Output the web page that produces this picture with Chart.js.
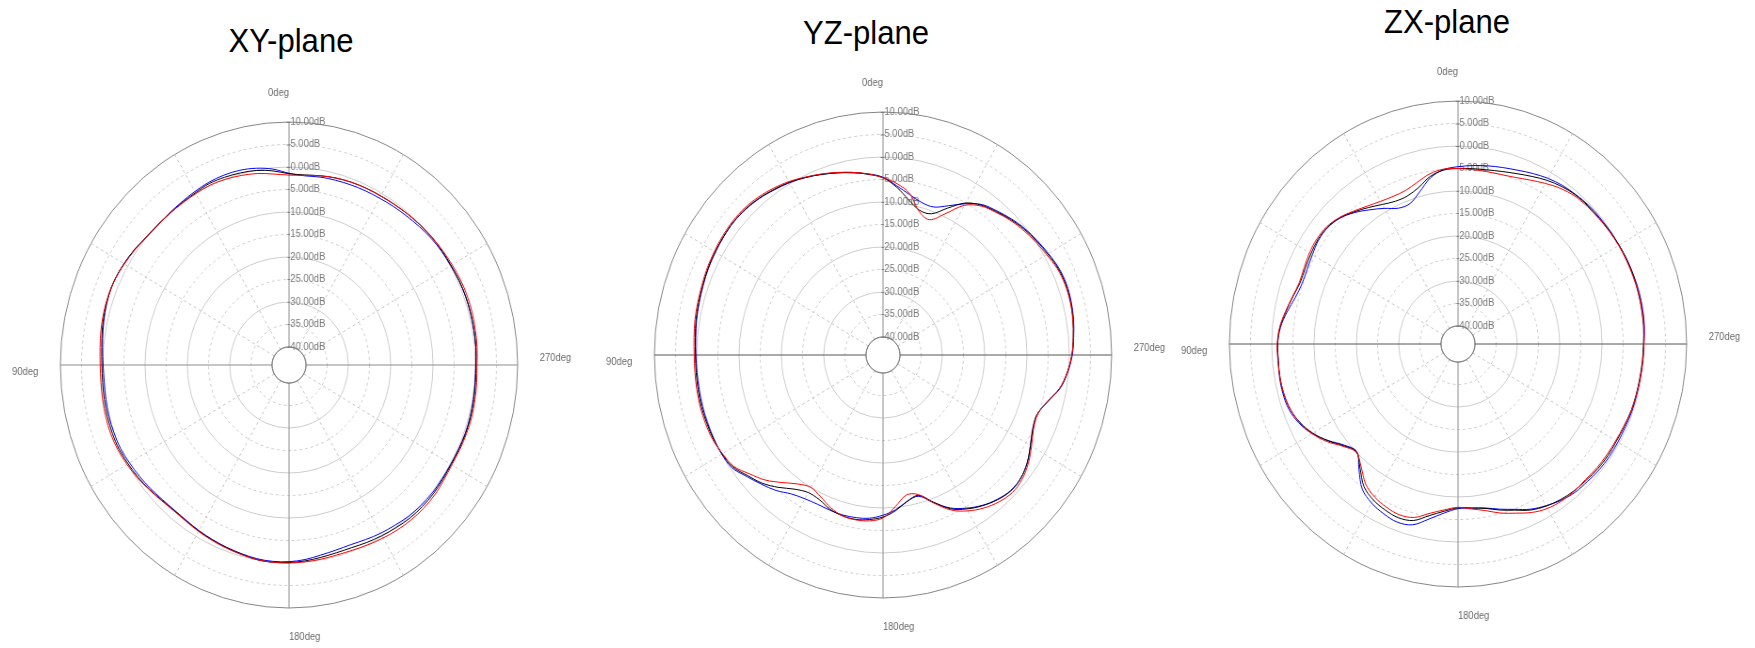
<!DOCTYPE html>
<html>
<head>
<meta charset="utf-8">
<title>Radiation patterns</title>
<script src="https://cdn.jsdelivr.net/npm/chart.js@4.4.1/dist/chart.umd.min.js"></script>
<style>
  html, body { margin: 0; padding: 0; background: #fff; overflow: hidden; }
  body { width: 1755px; height: 648px; position: relative; }
  /* the original plots are a little narrower than they are tall */
  .plot { position: absolute; width: 646px; height: 566px; transform: scaleX(0.941); transform-origin: 323px 283px; }
  .title { position: absolute; width: 400px; text-align: center; font: 33px/1 "Liberation Sans", Arial, sans-serif; color: #000; transform: scaleX(0.941); }
</style>
</head>
<body>
<div class="title" style="left:90.8px; top:24.4px">XY-plane</div>
<div class="title" style="left:666.3px; top:15.5px">YZ-plane</div>
<div class="title" style="left:1246.5px; top:5.1px">ZX-plane</div>

<div class="plot" style="left:-34px; top:82px"><canvas id="xy"></canvas></div>
<div class="plot" style="left:560px; top:72px"><canvas id="yz"></canvas></div>
<div class="plot" style="left:1135px; top:61px"><canvas id="zx"></canvas></div>

<script>
const ANGLES = [0, 5, 10, 15, 20, 25, 30, 35, 40, 45, 50, 55,
  60, 65, 70, 75, 80, 85, 90, 95, 100, 105, 110, 115,
  120, 125, 130, 135, 140, 145, 150, 155, 160, 165, 170, 175,
  180, 185, 190, 195, 200, 205, 210, 215, 220, 225, 230, 235,
  240, 245, 250, 255, 260, 265, 270, 275, 280, 285, 290, 295,
  300, 305, 310, 315, 320, 325, 330, 335, 340, 345, 350, 355];

const DB_TICKS = [-40, -35, -30, -25, -20, -15, -10, -5, 0, 5, 10];
const DEG_LABELS = { 0: '0deg', 90: '90deg', 180: '180deg', 270: '270deg' };

// gain in dB, one value per entry of ANGLES
const xyBlack = [-1.5, -0.7, -0.1, 0.2, 0.4, 0.5, 0.2, 0.0, -0.1, -0.1, 0.1, 0.6,
  1.0, 1.3, 1.3, 1.1, 0.8, 0.4, 0.2, 0.2, 0.3, 0.4, 0.4, 0.3,
  -0.1, -0.5, -1.0, -1.5, -1.8, -1.7, -1.4, -1.1, -0.8, -0.5, -0.1, 0.0,
  -0.1, -0.3, -0.6, -0.8, -0.8, -0.5, -0.2, 0.1, 0.4, 0.5, 0.5, 0.3,
  0.2, 0.3, 0.4, 0.4, 0.3, 0.2, 0.15, 0.3, 0.35, 0.4, 0.4, 0.35,
  0.2, 0.15, 0.1, -0.1, -0.3, -0.5, -0.65, -0.7, -0.8, -1.0, -1.3, -1.6];
const xyRed = [-1.8, -1.4, -0.8, -0.4, -0.1, 0.1, 0.0, -0.1, -0.1, -0.1, 0.1, 0.5,
  0.9, 1.3, 1.4, 1.3, 1.1, 0.8, 0.6, 0.6, 0.7, 0.8, 0.8, 0.6,
  0.2, -0.3, -0.9, -1.4, -1.7, -1.6, -1.3, -1.0, -0.7, -0.4, -0.1, 0.0,
  0.0, -0.1, -0.2, -0.3, -0.2, 0.1, 0.4, 0.7, 0.9, 1.0, 0.9, 0.6,
  0.4, 0.5, 0.6, 0.7, 0.6, 0.5, 0.4, 0.6, 0.7, 0.8, 0.8, 0.7,
  0.5, 0.3, 0.1, -0.1, -0.3, -0.5, -0.6, -0.7, -0.8, -1.0, -1.3, -1.7];
const xyBlue = [-1.4, -0.3, 0.4, 0.8, 0.9, 0.8, 0.5, 0.2, 0.0, -0.1, 0.1, 0.6,
  1.0, 1.3, 1.3, 1.0, 0.6, 0.2, -0.1, -0.2, -0.1, 0.0, 0.0, -0.1,
  -0.5, -0.9, -1.3, -1.7, -1.9, -1.8, -1.5, -1.2, -0.9, -0.6, -0.3, -0.2,
  -0.3, -0.6, -1.1, -1.4, -1.5, -1.2, -0.8, -0.5, -0.1, 0.1, 0.2, 0.1,
  0.1, 0.2, 0.3, 0.3, 0.2, 0.1, 0.1, 0.3, 0.35, 0.4, 0.4, 0.3,
  0.1, 0.0, -0.2, -0.5, -0.8, -1.0, -1.2, -1.3, -1.4, -1.5, -1.6, -1.8];

const yzBlack = [-4.6, -3.7, -2.8, -2.1, -1.3, -0.5, 0.3, 0.9, 1.5, 1.9, 2.05, 1.95,
  1.8, 1.6, 1.3, 1.05, 0.85, 0.5, 0.3, 0.3, 0.35, 0.4, 0.3, 0.2,
  -0.1, -0.7, -2.3, -3.7, -5.6, -7.6, -8.7, -8.5, -7.5, -7.0, -6.9, -7.3,
  -8.0, -9.3, -11.0, -11.7, -9.2, -6.3, -4.5, -3.1, -2.0, -1.3, -1.5, -2.4,
  -3.8, -5.0, -5.3, -3.8, -1.6, -0.3, 0.6, 1.1, 1.55, 1.85, 1.9, 1.6,
  0.9, 0.2, -0.5, -1.4, -2.4, -3.4, -5.0, -8.0, -10.6, -10.7, -9.0, -6.6];
const yzRed = [-4.6, -3.6, -2.8, -2.0, -1.2, -0.4, 0.5, 1.2, 1.8, 2.2, 2.3, 2.2,
  2.0, 1.8, 1.5, 1.3, 1.1, 0.8, 0.6, 0.6, 0.65, 0.7, 0.6, 0.4,
  -0.2, -0.9, -2.9, -4.7, -7.0, -9.0, -10.0, -9.2, -7.9, -7.0, -6.8, -7.0,
  -7.8, -10.2, -12.4, -11.9, -9.0, -6.0, -4.0, -2.5, -1.4, -0.8, -1.1, -2.1,
  -3.5, -4.8, -5.2, -3.8, -1.6, -0.3, 0.6, 1.1, 1.5, 1.75, 1.75, 1.4,
  0.6, -0.1, -0.8, -1.6, -2.6, -3.6, -5.6, -9.4, -12.0, -11.0, -7.6, -5.8];
const yzBlue = [-4.5, -3.6, -2.9, -2.1, -1.3, -0.5, 0.2, 0.8, 1.4, 1.8, 2.0, 1.9,
  1.7, 1.5, 1.2, 0.95, 0.7, 0.4, 0.2, 0.1, 0.1, 0.15, 0.1, 0.1,
  0.0, -0.4, -2.0, -3.4, -4.7, -6.3, -7.1, -7.4, -7.3, -7.2, -7.3, -7.6,
  -8.4, -9.5, -11.0, -11.5, -9.1, -6.5, -4.7, -3.2, -2.1, -1.4, -1.5, -2.4,
  -3.8, -5.0, -5.3, -3.8, -1.5, -0.2, 0.7, 1.2, 1.7, 2.0, 2.1, 1.8,
  1.1, 0.4, -0.3, -1.2, -2.2, -3.2, -5.2, -7.4, -9.0, -8.9, -7.8, -6.3];

const zxBlack = [-5.0, -5.2, -6.2, -8.0, -9.0, -9.0, -8.2, -7.0, -5.7, -4.4, -3.7, -3.6,
  -3.9, -4.2, -4.3, -3.6, -2.7, -1.8, -1.4, -1.4, -1.3, -1.4, -1.8, -2.8,
  -4.4, -6.5, -8.8, -10.1, -8.0, -5.3, -4.0, -3.3, -2.9, -3.4, -5.3, -6.7,
  -7.6, -7.4, -6.9, -5.8, -4.7, -3.3, -2.4, -1.8, -1.4, -1.2, -0.9, -0.8,
  -0.8, -0.7, -0.5, -0.45, -0.4, -0.3, -0.2, 0.0, 0.05, 0.1, 0.1, 0.05,
  -0.1, -0.3, -0.5, -0.6, -0.8, -1.3, -2.0, -2.9, -3.7, -4.3, -4.7, -4.9];
const zxRed = [-5.0, -5.0, -5.6, -6.8, -7.7, -7.8, -7.4, -6.6, -5.5, -4.3, -3.5, -3.3,
  -3.5, -3.9, -4.1, -3.5, -2.6, -1.7, -1.3, -1.3, -1.3, -1.4, -1.8, -2.7,
  -4.2, -6.2, -8.6, -10.0, -8.4, -6.0, -4.7, -4.0, -3.6, -4.1, -5.8, -7.0,
  -7.7, -7.2, -6.4, -5.1, -4.0, -2.7, -1.8, -1.4, -1.3, -1.4, -1.2, -1.1,
  -1.0, -0.8, -0.5, -0.4, -0.3, -0.2, -0.1, 0.1, 0.1, 0.1, 0.0, -0.1,
  -0.2, -0.4, -0.6, -0.8, -1.1, -1.8, -2.8, -3.8, -4.6, -5.0, -5.1, -5.1];
const zxBlue = [-4.6, -5.1, -6.5, -9.0, -10.8, -10.7, -9.2, -7.6, -5.9, -4.5, -3.8, -3.8,
  -4.3, -4.7, -4.8, -4.2, -3.0, -1.9, -1.4, -1.4, -1.2, -1.2, -1.5, -2.5,
  -4.2, -6.6, -9.0, -10.2, -7.6, -4.6, -3.2, -2.4, -1.9, -2.4, -4.5, -6.3,
  -7.4, -7.4, -7.0, -6.0, -4.9, -3.5, -2.5, -1.6, -1.0, -0.8, -0.5, -0.4,
  -0.4, -0.4, -0.3, -0.3, -0.3, -0.2, -0.1, 0.2, 0.3, 0.3, 0.2, 0.1,
  -0.1, -0.2, -0.3, -0.4, -0.7, -1.0, -1.5, -2.2, -2.9, -3.4, -3.8, -4.2];

// radar runs clockwise, these plots run counter-clockwise (90deg on the left)
const N = ANGLES.length;
const order = ANGLES.map((a, i) => (N - i) % N);
const ccw = arr => order.map(k => arr[k]);

// where the degree labels sit relative to the outer ring
const LABEL_POS = {
  0:   { dist: 29,   dy: 0,    align: 'right' },
  90:  { dist: 23.5, dy: 7,    align: 'right' },
  180: { dist: 29,   dy: 0,    align: 'left' },
  270: { dist: 23.5, dy: -6.5, align: 'left' }
};

const polarText = {
  id: 'polarText',
  beforeDatasetsDraw(chart) {
    const r = chart.scales.r, ctx = chart.ctx;
    const x0 = r.xCenter, y0 = r.yCenter;
    ctx.save();

    // hub at -40 dB
    const hub = r.getDistanceFromCenterForValue(DB_TICKS[0]);
    ctx.beginPath();
    ctx.arc(x0, y0, hub, 0, Math.PI * 2);
    ctx.fillStyle = '#fff';
    ctx.fill();
    ctx.strokeStyle = '#707070';
    ctx.lineWidth = 1;
    ctx.stroke();

    // dB labels along the upper axis
    ctx.font = '10px "Liberation Sans", Arial, sans-serif';
    ctx.textBaseline = 'middle';
    ctx.textAlign = 'left';
    ctx.fillStyle = '#7a7a7a';
    ctx.strokeStyle = '#7a7a7a';
    DB_TICKS.forEach(v => {
      const y = y0 - r.getDistanceFromCenterForValue(v);
      if (v >= 0) {
        ctx.beginPath();
        ctx.moveTo(x0 - 2.5, y + 0.5);
        ctx.lineTo(x0 + 1.5, y + 0.5);
        ctx.stroke();
      }
      ctx.fillText(v.toFixed(2) + 'dB', v < 0 ? x0 - 2 : x0 + 1.5, y);
    });

    // degree labels
    ctx.fillStyle = '#6a6a6a';
    r.getLabels().forEach((a, i) => {
      if (!(a in DEG_LABELS)) return;
      const p = LABEL_POS[a];
      const pos = r.getPointPosition(i, r.drawingArea + p.dist);
      ctx.textAlign = p.align;
      ctx.fillText(DEG_LABELS[a], pos.x, pos.y + p.dy);
    });
    ctx.restore();
  }
};

function makePlot(id, black, red, blue, hAxisColor, gapAtTop) {
  const ds = (label, data, color) => ({
    label, data: ccw(data), borderColor: color, backgroundColor: color,
    borderWidth: 1, pointRadius: 0, fill: false, tension: 0.35,
    segment: { borderColor: c => (gapAtTop && c.p0DataIndex === 0) ? 'rgba(0,0,0,0)' : undefined }
  });

  return new Chart(document.getElementById(id), {
    type: 'radar',
    data: {
      labels: ccw(ANGLES),
      datasets: [ds('red', red, '#ff0000'), ds('black', black, '#000000'), ds('blue', blue, '#0000ff')]
    },
    options: {
      responsive: true,
      maintainAspectRatio: false,
      animation: false,
      layout: { padding: { left: 80, right: 80, top: 40, bottom: 40 } },
      plugins: { legend: { display: false }, tooltip: { enabled: false } },
      scales: {
        r: {
          min: -44,
          max: 10,
          startAngle: 0,
          afterBuildTicks: s => { s.ticks = DB_TICKS.map(v => ({ value: v })); },
          ticks: { display: false, stepSize: 5 },
          pointLabels: { display: false },
          grid: {
            circular: true,
            lineWidth: 1,
            color: c => c.tick.value === 10 ? '#858585' : (c.tick.value === -40 ? '#707070' : '#cccccc')
          },
          border: { dash: c => (c.tick.value % 10 !== 0) ? [3, 3] : [] },
          angleLines: {
            display: true,
            color: c => c.label % 90 === 0 ? ((c.label === 90 || c.label === 270) ? hAxisColor : '#8c8c8c') : '#c6c6c6',
            lineWidth: c => c.label % 30 === 0 ? 1 : 0,
            borderDash: c => c.label % 90 === 0 ? [] : [3, 3]
          }
        }
      }
    },
    plugins: [polarText]
  });
}

makePlot('xy', xyBlack, xyRed, xyBlue, '#8c8c8c', true);
makePlot('yz', yzBlack, yzRed, yzBlue, '#555555', false);
makePlot('zx', zxBlack, zxRed, zxBlue, '#555555', false);
</script>
</body>
</html>
